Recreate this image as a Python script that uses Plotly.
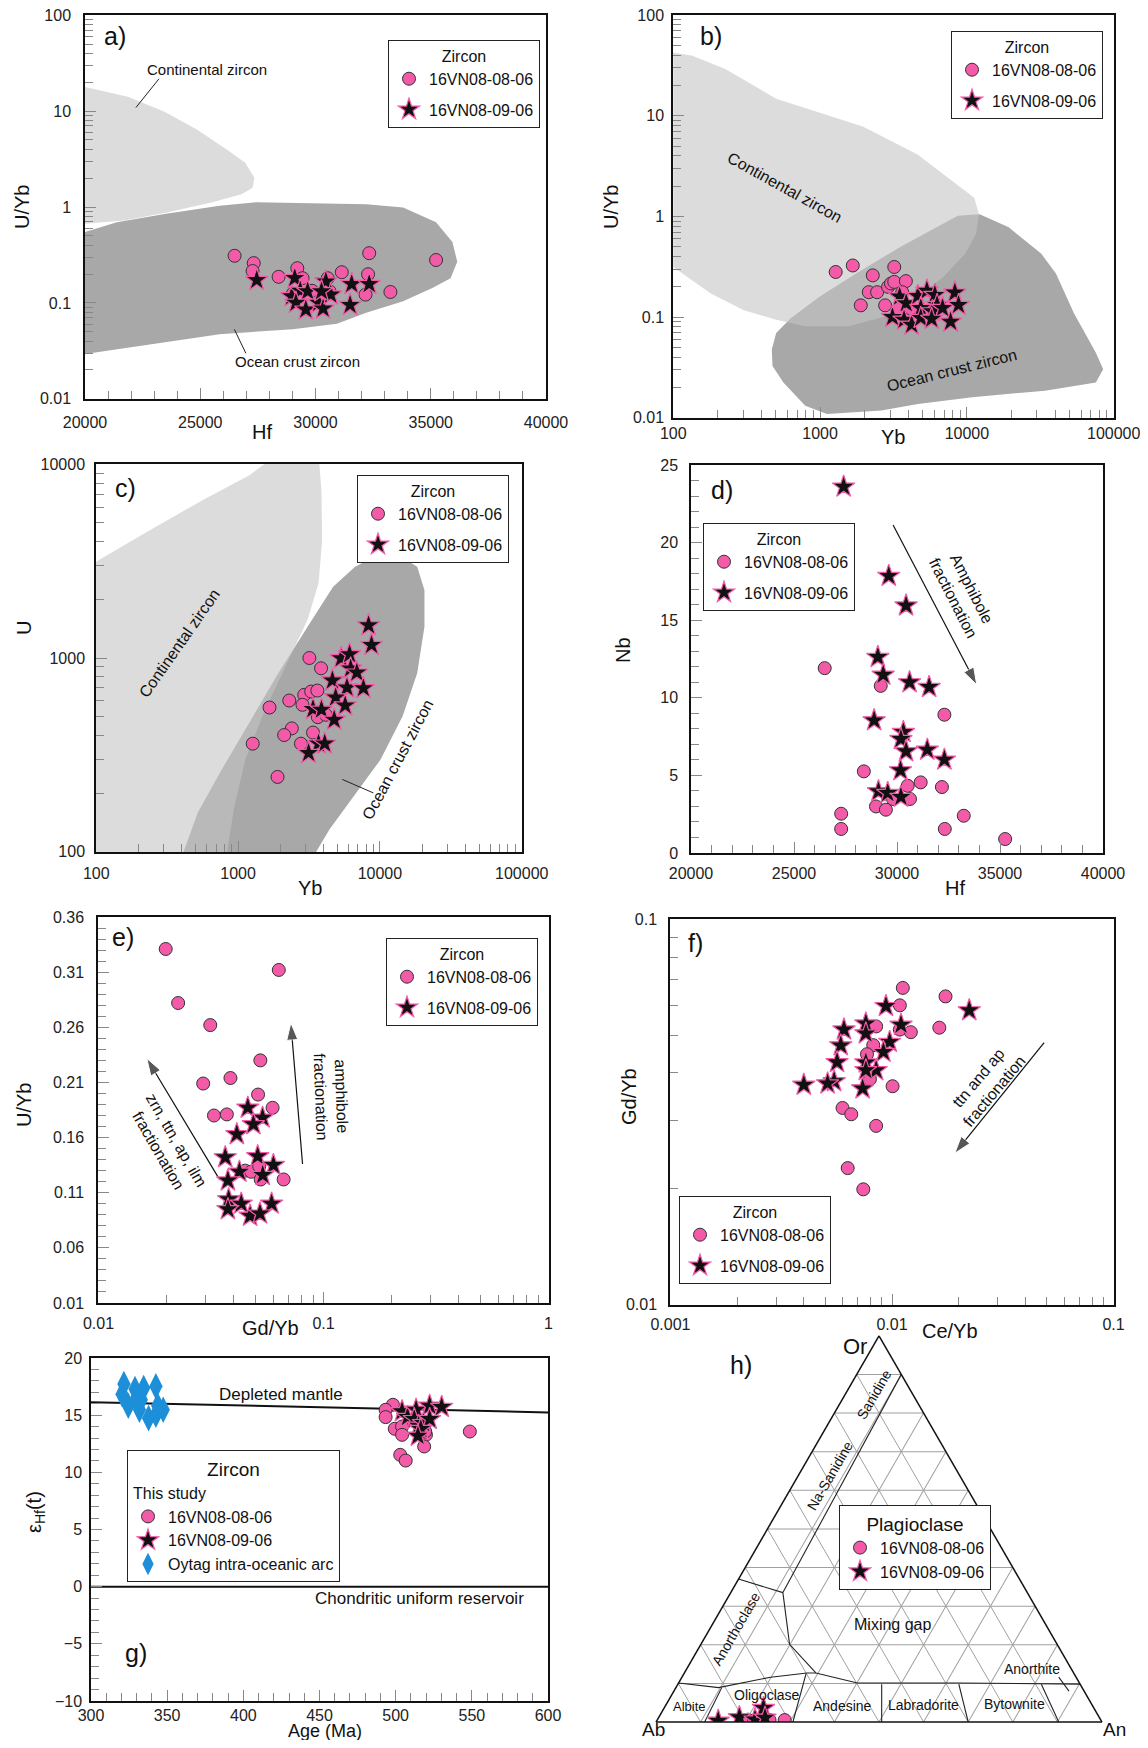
import plotly.graph_objects as go

# ---------------- DATA ----------------
# a) Hf vs U/Yb
a_hf_c = [26490, 27320, 27270, 28400, 29210, 29440, 29850, 29020, 30530, 30610, 31140, 32330, 32280, 32170, 33250, 35230]
a_uyb_c = [0.31, 0.26, 0.215, 0.187, 0.23, 0.181, 0.134, 0.125, 0.181, 0.132, 0.209, 0.33, 0.199, 0.122, 0.130, 0.28]
a_hf_s = [27450, 29100, 28970, 29340, 29660, 29150, 29580, 30140, 30330, 30450, 30660, 31570, 31500, 32330, 30260]
a_uyb_s = [0.173, 0.181, 0.117, 0.134, 0.132, 0.100, 0.085, 0.100, 0.087, 0.167, 0.122, 0.157, 0.095, 0.157, 0.132]
a_cont_hf = [20000, 21860, 23450, 24890, 26160, 26950, 27350, 27270, 26790, 25520, 23610, 21700, 20000]
a_cont_uyb = [17.8, 14.1, 9.85, 6.37, 3.96, 2.89, 2.02, 1.59, 1.36, 1.12, 0.881, 0.723, 0.668]
a_ocean_hf = [20000, 21380, 23450, 25840, 27430, 32200, 33800, 35230, 35940, 36150, 35860, 35070, 33800, 32200, 30930, 29020, 25840, 23450, 20000]
a_ocean_uyb = [0.548, 0.695, 0.847, 1.03, 1.12, 1.07, 0.99, 0.695, 0.432, 0.269, 0.181, 0.143, 0.104, 0.0789, 0.0608, 0.0531, 0.0472, 0.0387, 0.0293]
a_cont_lead_hf = [23210, 22210]
a_cont_lead_uyb = [21.7, 10.9]
a_ocean_lead_hf = [26480, 26980]
a_ocean_lead_uyb = [0.053, 0.0298]

# b) Yb vs U/Yb
b_yb_c = [1277, 1670, 2285, 2145, 2446, 1893, 2773, 2904, 3040, 3200, 3200, 3840, 3625, 3427, 4134]
b_uyb_c = [0.281, 0.326, 0.26, 0.177, 0.177, 0.131, 0.131, 0.20, 0.216, 0.224, 0.315, 0.228, 0.177, 0.122, 0.122]
b_yb_s = [3484, 3860, 4634, 5340, 6055, 6265, 4850, 5820, 6825, 8280, 8770, 3110, 3730, 4205, 4850, 5750, 7740]
b_uyb_s = [0.160, 0.137, 0.162, 0.183, 0.166, 0.132, 0.123, 0.114, 0.123, 0.175, 0.132, 0.100, 0.094, 0.084, 0.098, 0.096, 0.090]
b_cont_yb = [100, 135, 226, 502, 1114, 1972, 4637, 9186, 11220, 12080, 11540, 9726, 6905, 4375, 2775, 1569, 792, 502, 300, 180, 108, 100]
b_cont_uyb = [42.7, 39.5, 29.2, 14.8, 10.2, 7.80, 4.10, 1.93, 1.54, 1.05, 0.670, 0.426, 0.251, 0.148, 0.1016, 0.081, 0.081, 0.094, 0.118, 0.172, 0.292, 0.315]
b_ocean_yb = [502, 631, 995, 1759, 3486, 6166, 8670, 12210, 19270, 32150, 40400, 53700, 75600, 84800, 75600, 34040, 10880, 4637, 2618, 1114, 792, 562, 474, 469]
b_ocean_uyb = [0.0697, 0.0977, 0.160, 0.271, 0.495, 0.780, 1.015, 1.05, 0.780, 0.426, 0.271, 0.109, 0.0443, 0.0303, 0.0224, 0.0186, 0.0160, 0.0137, 0.0118, 0.0109, 0.0132, 0.0224, 0.0327, 0.0478]

# c) Yb vs U
c_yb_c = [3183, 3846, 2926, 3276, 3624, 2295, 2843, 1666, 3648, 4155, 2392, 2113, 3375, 2774, 1268, 1897]
c_u_c = [1000, 885, 645, 671, 679, 603, 573, 555, 495, 509, 433, 400, 412, 361, 361, 243]
c_yb_s = [8318, 8730, 5330, 6110, 6220, 6880, 4624, 5860, 7650, 4875, 5690, 3375, 3870, 4760, 3690, 4080, 3142]
c_u_s = [1473, 1167, 996, 1044, 882, 840, 765, 703, 698, 625, 568, 544, 540, 479, 361, 361, 323]
c_cont_yb = [95, 95, 227, 586, 1194, 1921, 3690, 3869, 3917, 3690, 3090, 2164, 1515, 1126, 942, 837, 837]
c_cont_u = [90, 3076, 4477, 6653, 8770, 11350, 11350, 7346, 4064, 2428, 1574, 904, 520, 299, 172, 100, 90]
c_ocean_yb = [365, 520, 743, 1194, 1921, 3090, 4677, 6683, 9530, 13610, 18320, 20610, 20610, 18320, 14450, 10110, 6295, 4406, 2911]
c_ocean_u = [78, 159, 255, 461, 835, 1452, 2333, 2958, 3396, 3396, 2958, 2244, 1452, 835, 500, 299, 186, 130, 78]
c_lead_yb = [5430, 8990]
c_lead_u = [236, 201]

# d) Hf vs Nb
d_hf_c = [26490, 29210, 28390, 32300, 30520, 31150, 32180, 28980, 29460, 29810, 30630, 27290, 27290, 32320, 33240, 35250]
d_nb_c = [11.91, 10.77, 5.26, 8.91, 4.33, 4.55, 4.25, 3.0, 2.79, 3.48, 3.48, 2.53, 1.55, 1.55, 2.4, 0.9]
d_hf_s = [27410, 29600, 30440, 29070, 29330, 30610, 31560, 28890, 30310, 30190, 30440, 31470, 32300, 30170, 29100, 29550, 30190]
d_nb_s = [23.6, 17.85, 15.94, 12.62, 11.48, 10.99, 10.69, 8.54, 7.79, 7.34, 6.55, 6.65, 6.01, 5.32, 3.97, 3.86, 3.61]
d_arrow_hf = [29810, 33870]
d_arrow_nb = [21.14, 10.84]

# e) Gd/Yb vs U/Yb
e_gdyb_c = [0.0199, 0.0226, 0.0314, 0.0292, 0.0386, 0.0524, 0.0512, 0.0326, 0.0372, 0.0594, 0.0449, 0.0477, 0.0518, 0.0526, 0.0665, 0.0633]
e_uyb_c = [0.331, 0.282, 0.262, 0.209, 0.214, 0.230, 0.199, 0.180, 0.181, 0.187, 0.130, 0.129, 0.134, 0.122, 0.122, 0.312]
e_gdyb_s = [0.0461, 0.0536, 0.0412, 0.0488, 0.0366, 0.0510, 0.0599, 0.0423, 0.0537, 0.0376, 0.0379, 0.0431, 0.0588, 0.0376, 0.0472, 0.0522]
e_uyb_s = [0.187, 0.178, 0.163, 0.172, 0.142, 0.143, 0.135, 0.129, 0.126, 0.121, 0.104, 0.100, 0.100, 0.095, 0.089, 0.091]
e_arrow1_gdyb = [0.0346, 0.0164]
e_arrow1_uyb = [0.1216, 0.2318]
e_arrow2_gdyb = [0.0807, 0.0716]
e_arrow2_uyb = [0.136, 0.264]

# f) Ce/Yb vs Gd/Yb
f_ceyb_c = [0.01119, 0.01085, 0.01744, 0.00848, 0.01085, 0.01216, 0.01635, 0.00823, 0.00771, 0.00795, 0.01006, 0.00598, 0.00655, 0.00848, 0.00631, 0.00742]
f_gdyb_c = [0.0665, 0.0599, 0.0632, 0.0528, 0.0518, 0.0510, 0.0524, 0.0472, 0.0447, 0.0385, 0.0369, 0.0324, 0.0312, 0.0291, 0.0226, 0.0199]
f_ceyb_s = [0.00939, 0.02232, 0.00762, 0.01098, 0.00607, 0.00762, 0.00976, 0.00587, 0.00915, 0.00565, 0.00762, 0.00848, 0.00762, 0.00548, 0.00512, 0.00400, 0.00737]
f_gdyb_s = [0.0596, 0.0581, 0.0537, 0.0533, 0.0518, 0.0506, 0.0481, 0.0471, 0.0453, 0.0426, 0.0425, 0.0406, 0.0406, 0.0380, 0.0375, 0.0372, 0.0364]
f_arrow_ceyb = [0.0486, 0.0192]
f_arrow_gdyb = [0.0479, 0.0247]

# g) Age vs eHf(t)
g_age_c = [498.2, 493.4, 493.4, 499.4, 504.2, 504.2, 519.9, 518.7, 503.0, 506.6, 548.7, 519.4]
g_eps_c = [15.91, 15.47, 14.83, 13.81, 14.01, 13.28, 13.28, 12.26, 11.53, 11.03, 13.57, 13.57]
g_age_s = [504.2, 507.8, 513.4, 522.3, 530.2, 512.2, 515.1, 518.2, 522.3, 516.5, 514.6]
g_eps_s = [15.33, 14.83, 15.47, 15.82, 15.71, 14.65, 14.07, 14.30, 14.65, 13.78, 13.19]
g_age_oy = [321.6, 320.4, 324.5, 328.9, 329.8, 331.8, 334.6, 333.0, 337.8, 342.6, 343.8, 342.6, 347.4]
g_eps_oy = [17.72, 16.84, 15.82, 17.28, 16.49, 15.47, 17.37, 16.35, 14.74, 17.52, 15.82, 15.03, 15.47]
g_dm_age = [300, 600]
g_dm_eps = [16.14, 15.24]
g_chur_age = [300, 600]
g_chur_eps = [0, 0]

# h) Or-Ab-An ternary (plagioclase)
h_or_c = [0.6, 0.4, 0.4, 0.5, 0.5]
h_an_c = [20.3, 21.8, 23.0, 25.2, 28.6]
h_or_s = [0.3, 1.2, 0.6, 3.6, 1.1]
h_an_s = [13.8, 18.1, 21.9, 22.3, 23.9]
# field boundaries (Or, An) pairs
h_bounds = [
    ([90, 33.5], [10, 11.7]),
    ([37, 33.5], [0, 11.7]),
    ([33.5, 20.1, 12.7], [11.7, 19.9, 29.5]),
    ([10.1, 8.9, 11.6, 12.7, 12.7, 10.1, 10.1, 9.8], [0, 9.6, 19.9, 27.5, 29.5, 40.1, 62.6, 90.2]),
    ([0, 8.9], [10.9, 10.3]),
    ([0, 12.5], [30.7, 27.4]),
    ([0, 9.8], [50.6, 45.7]),
    ([0, 9.8], [70.0, 63.0]),
    ([0, 9.8], [90.3, 81.5]),
    ([11.6, 8.0], [84.5, 88.6]),
]

# ---------------- STYLE ----------------
# page body has an 8 px margin: figure is 16 px smaller, coordinates below are window pixels
OFF = 8
W, H = 1148 - 2 * OFF, 1748 - 2 * OFF
def px(x): return (x - OFF) / W
def py(y): return 1 - (y - OFF) / H

PINK = "#F35BA8"
FONT = "Liberation Sans, Arial, sans-serif"
CONT = "rgba(196,196,196,0.6)"
OCEAN = "#a8a8a8"
EPS = 0.002

fig = go.Figure()

def circ(x, y, xa, ya, leg, name="16VN08-08-06", **kw):
    kw.setdefault("legendgroup", leg + "c")
    fig.add_trace(go.Scatter(x=x, y=y, xaxis=xa, yaxis=ya, mode="markers", name=name,
                             marker=dict(symbol="circle", size=13, color=PINK, line=dict(color="#333", width=1)),
                             legend=leg, **kw))

def star(x, y, xa, ya, leg, name="16VN08-09-06", **kw):
    kw.setdefault("legendgroup", leg + "s")
    fig.add_trace(go.Scatter(x=x, y=y, xaxis=xa, yaxis=ya, mode="markers", name=name,
                             marker=dict(symbol="star", size=17, color="#111", line=dict(color=PINK, width=1.2)),
                             legend=leg, **kw))

def region(x, y, xa, ya, color):
    fig.add_trace(go.Scatter(x=x, y=y, xaxis=xa, yaxis=ya, mode="lines", fill="toself", fillcolor=color,
                             line=dict(width=0), showlegend=False, hoverinfo="skip"))

def lead(x, y, xa, ya):
    fig.add_trace(go.Scatter(x=x, y=y, xaxis=xa, yaxis=ya, mode="lines", line=dict(color="#222", width=1),
                             showlegend=False, hoverinfo="skip"))

def arrow(x, y, xa, ya):
    fig.add_trace(go.Scatter(x=x, y=y, xaxis=xa, yaxis=ya, mode="lines+markers",
                             line=dict(color="#111", width=1.2),
                             marker=dict(symbol="arrow", size=[0, 18], angleref="previous", color="#111"),
                             showlegend=False, hoverinfo="skip"))

# a
region(a_ocean_hf, a_ocean_uyb, "x", "y", OCEAN)
region(a_cont_hf, a_cont_uyb, "x", "y", CONT)
lead(a_cont_lead_hf, a_cont_lead_uyb, "x", "y")
lead(a_ocean_lead_hf, a_ocean_lead_uyb, "x", "y")
circ(a_hf_c, a_uyb_c, "x", "y", "legend")
star(a_hf_s, a_uyb_s, "x", "y", "legend")
# b
region(b_ocean_yb, b_ocean_uyb, "x2", "y2", OCEAN)
region(b_cont_yb, b_cont_uyb, "x2", "y2", CONT)
circ(b_yb_c, b_uyb_c, "x2", "y2", "legend2")
star(b_yb_s, b_uyb_s, "x2", "y2", "legend2")
# c
region(c_ocean_yb, c_ocean_u, "x3", "y3", OCEAN)
region(c_cont_yb, c_cont_u, "x3", "y3", CONT)
lead(c_lead_yb, c_lead_u, "x3", "y3")
circ(c_yb_c, c_u_c, "x3", "y3", "legend3")
star(c_yb_s, c_u_s, "x3", "y3", "legend3")
# d
arrow(d_arrow_hf, d_arrow_nb, "x4", "y4")
circ(d_hf_c, d_nb_c, "x4", "y4", "legend4")
star(d_hf_s, d_nb_s, "x4", "y4", "legend4")
# e
arrow(e_arrow1_gdyb, e_arrow1_uyb, "x5", "y5")
arrow(e_arrow2_gdyb, e_arrow2_uyb, "x5", "y5")
circ(e_gdyb_c, e_uyb_c, "x5", "y5", "legend5")
star(e_gdyb_s, e_uyb_s, "x5", "y5", "legend5")
# f
arrow(f_arrow_ceyb, f_arrow_gdyb, "x6", "y6")
circ(f_ceyb_c, f_gdyb_c, "x6", "y6", "legend6")
star(f_ceyb_s, f_gdyb_s, "x6", "y6", "legend6")
# g
fig.add_trace(go.Scatter(x=g_dm_age, y=g_dm_eps, xaxis="x7", yaxis="y7", mode="lines",
                         line=dict(color="#111", width=2), showlegend=False))
fig.add_trace(go.Scatter(x=g_chur_age, y=g_chur_eps, xaxis="x7", yaxis="y7", mode="lines",
                         line=dict(color="#111", width=2), showlegend=False))
fig.add_trace(go.Scatter(x=g_age_oy, y=g_eps_oy, xaxis="x7", yaxis="y7", mode="markers",
                         name="Oytag intra-oceanic arc",
                         marker=dict(symbol="diamond-tall", size=19, color="#1C8FD8"),
                         legend="legend7", legendgroup="g2", legendrank=3))
circ(g_age_c, g_eps_c, "x7", "y7", "legend7", legendgroup="g1",
     legendgrouptitle=dict(text="This study", font=dict(size=16)), legendrank=1)
star(g_age_s, g_eps_s, "x7", "y7", "legend7", legendgroup="g1", legendrank=2)

# h ternary
for o, an in h_bounds:
    ab = [100 - oo - aa for oo, aa in zip(o, an)]
    fig.add_trace(go.Scatterternary(a=o, b=ab, c=an, mode="lines", line=dict(color="#222", width=1.1),
                                    showlegend=False, hoverinfo="skip"))
fig.add_trace(go.Scatterternary(a=h_or_c, b=[100 - o - a for o, a in zip(h_or_c, h_an_c)], c=h_an_c,
                                mode="markers", name="16VN08-08-06", legend="legend8",
                                marker=dict(symbol="circle", size=13, color=PINK, line=dict(color="#333", width=1))))
fig.add_trace(go.Scatterternary(a=h_or_s, b=[100 - o - a for o, a in zip(h_or_s, h_an_s)], c=h_an_s,
                                mode="markers", name="16VN08-09-06", legend="legend8",
                                marker=dict(symbol="star", size=17, color="#111", line=dict(color=PINK, width=1.2))))

# ---------------- AXES ----------------
def axis(dom, rng, typ="linear", anchor=None, dtick=None, tick0=None, mdtick=None, mtick0=None,
         standoff=4, fmt=None):
    if typ == "log":
        rng = [rng[0] - EPS, rng[1] + EPS]
    d = dict(domain=dom, range=rng, type=typ, anchor=anchor, showline=True, linecolor="#111", linewidth=1.5,
             mirror=True, ticks="inside", ticklen=11, tickwidth=1, tickcolor="#888", showgrid=False,
             zeroline=False, tickfont=dict(size=16, color="#222"), exponentformat="none",
             automargin=False, ticklabelstandoff=standoff, ticklabeloverflow="allow",
             minor=dict(ticks="inside", ticklen=8, tickwidth=1, tickcolor="#888", showgrid=False))
    if dtick is not None:
        d["dtick"] = dtick
    if tick0 is not None:
        d["tick0"] = tick0
    if mdtick is not None:
        d["minor"]["dtick"] = mdtick
    if mtick0 is not None:
        d["minor"]["tick0"] = mtick0
    if fmt is not None:
        d["tickformat"] = fmt
    return d

layout = dict(
    template="none",
    width=W, height=H, autosize=False, margin=dict(l=0, r=0, t=0, b=0, autoexpand=False),
    paper_bgcolor="white", plot_bgcolor="white", font=dict(family=FONT, color="#111"),
    xaxis=axis([px(85), px(546)], [20000, 40000], anchor="y", dtick=5000, mdtick=1000, fmt="d", standoff=8),
    yaxis=axis([py(399), py(15)], [-2, 2], "log", anchor="x", dtick=1, mdtick="D1", standoff=9),
    xaxis2=axis([px(673), px(1114)], [2, 5], "log", anchor="y2", dtick=1, mdtick="D1", fmt="d", standoff=0),
    yaxis2=axis([py(418), py(15)], [-2, 2], "log", anchor="x2", dtick=1, mdtick="D1", standoff=4),
    xaxis3=axis([px(96), px(522)], [2, 5], "log", anchor="y3", dtick=1, mdtick="D1", fmt="d", standoff=6),
    yaxis3=axis([py(852), py(464)], [2, 4], "log", anchor="x3", dtick=1, mdtick="D1", fmt="d", standoff=6),
    xaxis4=axis([px(691), px(1103)], [20000, 40000], anchor="y4", dtick=5000, mdtick=1000, fmt="d", standoff=5),
    yaxis4=axis([py(853), py(465)], [0, 25], anchor="x4", dtick=5, mdtick=1, standoff=8),
    xaxis5=axis([px(98), px(549)], [-2, 0], "log", anchor="y5", dtick=1, mdtick="D1", standoff=5),
    yaxis5=axis([py(1303), py(917)], [0.01, 0.36], anchor="x5", dtick=0.05, tick0=0.01, mdtick=0.01,
                mtick0=0.01, standoff=9),
    xaxis6=axis([px(670), px(1114)], [-3, -1], "log", anchor="y6", dtick=1, mdtick="D1", standoff=4),
    yaxis6=axis([py(1305), py(919)], [-2, -1], "log", anchor="x6", dtick=1, mdtick="D1", standoff=8),
    xaxis7=axis([px(91), px(548)], [300, 600], anchor="y7", dtick=50, mdtick=10, standoff=-1),
    yaxis7=axis([py(1701), py(1358)], [-10, 20], anchor="x7", dtick=5, mdtick=1, standoff=4),
)

tern_ax = dict(title=dict(text=""), showticklabels=False, ticks="", linecolor="#111", linewidth=1.5,
               showgrid=True, gridcolor="#a0a0a0", gridwidth=0.8, dtick=10, min=0, showline=True)
XA, YB, TW = 656, 1722, 446
TH = TW * 0.8660254
layout["ternary"] = dict(domain=dict(x=[px(XA), px(XA + TW)], y=[py(YB), py(YB - TH)]), sum=100,
                         bgcolor="white", aaxis=tern_ax, baxis=tern_ax, caxis=tern_ax)

def leg(x, y, title="Zircon", size=16, gap=7):
    return dict(x=px(x), y=py(y), xanchor="left", yanchor="top", bordercolor="#222", borderwidth=1,
                bgcolor="white", font=dict(size=size, color="#111"), itemwidth=30, tracegroupgap=gap,
                title=dict(text=title, side="top center", font=dict(size=size, color="#111")))

layout["legend"] = leg(388, 40)
layout["legend2"] = leg(951, 31)
layout["legend3"] = leg(357, 475)
layout["legend4"] = leg(703, 523)
layout["legend5"] = leg(386, 938)
layout["legend6"] = leg(679, 1196)
layout["legend7"] = leg(127, 1450, size=16, gap=0)
layout["legend7"]["traceorder"] = "grouped"
layout["legend7"]["title"]["font"]["size"] = 19
layout["legend8"] = leg(839, 1505, title="Plagioclase", size=16, gap=0)
layout["legend8"]["title"]["font"]["size"] = 19

fig.update_layout(**layout)

# ---------------- ANNOTATIONS ----------------
ann = []
def txt(x, y, s, size=15, angle=0):
    ann.append(dict(x=px(x), y=py(y), xref="paper", yref="paper", text=s, showarrow=False,
                    font=dict(size=size, color="#111"), textangle=angle, xanchor="center", yanchor="middle"))

# panel letters
for lab, x, y in [("a)", 115, 36), ("b)", 711, 36), ("c)", 125, 488), ("d)", 722, 490),
                  ("e)", 123, 937), ("f)", 695, 943), ("g)", 136, 1653)]:
    txt(x, y, lab, 25)

# axis titles
txt(262, 432, "Hf", 20); txt(22, 207, "U/Yb", 20, -90)
txt(893, 437, "Yb", 20); txt(611, 207, "U/Yb", 20, -90)
txt(310, 888, "Yb", 20); txt(24, 628, "U", 20, -90)
txt(955, 888, "Hf", 20); txt(623, 650, "Nb", 20, -90)
txt(270, 1328, "Gd/Yb", 20); txt(24, 1105, "U/Yb", 20, -90)
txt(950, 1331, "Ce/Yb", 20); txt(629, 1097, "Gd/Yb", 20, -90)
txt(325, 1731, "Age (Ma)", 18); txt(35, 1512, "ε<sub>Hf</sub>(t)", 20, -90)

# field labels
txt(207, 70, "Continental zircon", 15)
txt(297, 361, "Ocean crust zircon", 15)
txt(785, 187, "Continental zircon", 16, 29)
txt(951, 370, "Ocean crust zircon", 16, -14)
txt(179, 643, "Continental zircon", 16, -55)
txt(397, 760, "Ocean crust zircon", 16, -62)
txt(962, 593, "Amphibole<br>fractionation", 16, 63)
txt(167, 1145, "zrn, ttn, ap, ilm<br>fractionation", 16, 60)
txt(331, 1097, "amphibole<br>fractionation", 16, 88)
txt(986, 1085, "ttn and ap<br>fractionation", 16, -50)
txt(281, 1394, "Depleted mantle", 17)
txt(419, 1598, "Chondritic uniform reservoir", 17)

# ternary labels
def tpos(u, v):
    return XA + u * TW, YB - v * TH
apex_x, apex_y = tpos(0.5, 1.0)
txt(apex_x - 24, apex_y + 11, "Or", 22)
txt(XA - 2, 1729, "Ab", 19)
txt(XA + TW + 12, 1729, "An", 19)
for s, u, v, size, ang in [("h)", 0.191, 0.924, 25, 0), ("Sanidine", 0.490, 0.848, 14, -60),
                           ("Na-Sanidine", 0.389, 0.638, 14, -60), ("Anorthoclase", 0.179, 0.241, 14, -60),
                           ("Mixing gap", 0.531, 0.252, 16, 0), ("Albite", 0.075, 0.040, 13, 0),
                           ("Oligoclase", 0.249, 0.071, 14, 0), ("Andesine", 0.418, 0.042, 14, 0),
                           ("Labradorite", 0.599, 0.043, 14, 0), ("Bytownite", 0.803, 0.047, 14, 0),
                           ("Anorthite", 0.844, 0.138, 14, 0)]:
    x, y = tpos(u, v)
    txt(x, y, s, size, ang)

fig.update_layout(annotations=ann)
fig.write_html("out.html")
